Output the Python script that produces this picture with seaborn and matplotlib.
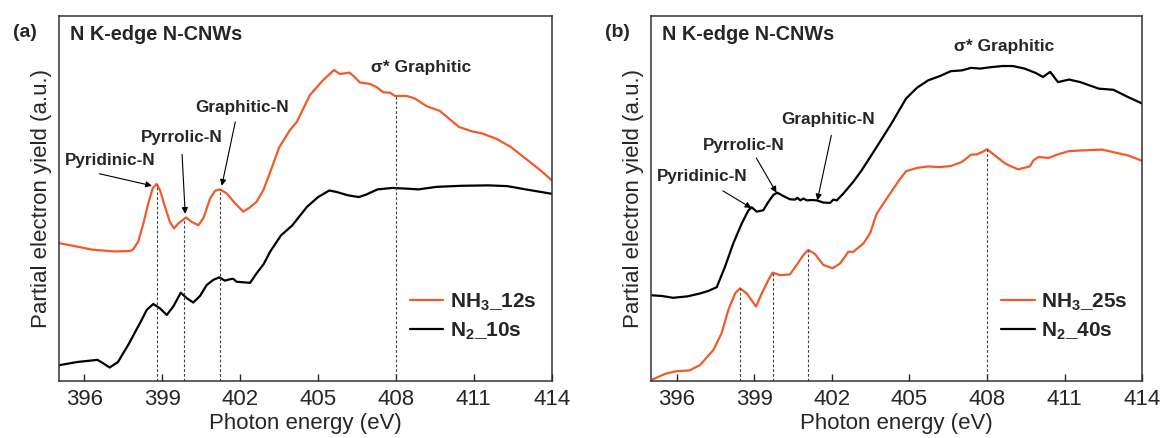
import numpy as np
import pandas as pd
import seaborn as sns
import matplotlib.pyplot as plt

# ---- panel (a) data ----
e_a_nh3 = [395.0, 395.6, 396.29, 397.14, 397.75, 397.88, 398.07, 398.27, 398.46, 398.63, 398.78, 398.91,
           399.10, 399.29, 399.45, 399.62, 399.91, 400.13, 400.39, 400.58, 400.84, 401.03, 401.22, 401.48,
           401.80, 402.12, 402.38, 402.63, 402.89, 403.21, 403.5, 403.92, 404.18, 404.69, 405.2, 405.61,
           405.84, 406.20, 406.36, 406.61, 407.0, 407.26, 407.51, 407.77, 407.96, 408.41, 408.73, 409.18,
           409.69, 410.43, 410.93, 411.29, 411.86, 412.43, 413.0, 413.57, 414.0]
y_a_nh3 = [0.378, 0.370, 0.360, 0.355, 0.356, 0.361, 0.382, 0.432, 0.487, 0.528, 0.540, 0.523,
           0.478, 0.436, 0.418, 0.432, 0.448, 0.436, 0.427, 0.446, 0.500, 0.521, 0.525, 0.514,
           0.487, 0.464, 0.476, 0.491, 0.523, 0.583, 0.640, 0.688, 0.710, 0.784, 0.825, 0.852,
           0.841, 0.845, 0.836, 0.818, 0.814, 0.805, 0.791, 0.790, 0.781, 0.781, 0.774, 0.753,
           0.740, 0.696, 0.684, 0.679, 0.664, 0.641, 0.609, 0.577, 0.550]

e_a_n2 = [395.0, 395.71, 396.5, 396.71, 396.97, 397.29, 397.71, 398.2, 398.4, 398.65, 398.91, 399.17,
          399.42, 399.71, 399.94, 400.19, 400.45, 400.71, 400.96, 401.19, 401.41, 401.61, 401.73, 401.86,
          402.38, 402.63, 402.9, 403.15, 403.57, 404.0, 404.57, 405.0, 405.43, 405.71, 406.14, 406.57,
          406.86, 407.29, 407.86, 408.43, 408.86, 409.57, 410.57, 411.57, 412.29, 413.0, 414.0]
y_a_n2 = [0.043, 0.052, 0.058, 0.049, 0.037, 0.052, 0.102, 0.167, 0.195, 0.211, 0.199, 0.181,
          0.204, 0.242, 0.227, 0.215, 0.233, 0.263, 0.277, 0.284, 0.275, 0.279, 0.280, 0.272,
          0.269, 0.295, 0.320, 0.354, 0.399, 0.426, 0.477, 0.504, 0.522, 0.518, 0.509, 0.504,
          0.511, 0.525, 0.529, 0.527, 0.525, 0.532, 0.535, 0.536, 0.534, 0.525, 0.513]

peaks_a = [398.78, 399.83, 401.22, 408.0]

# ---- panel (b) data ----
e_b_nh3 = [395.0, 395.57, 396.0, 396.5, 396.91, 397.42, 397.74, 398.0, 398.26, 398.45, 398.71, 399.07,
           399.29, 399.55, 399.71, 400.0, 400.38, 400.64, 400.90, 401.09, 401.35, 401.67, 402.03, 402.32,
           402.64, 402.83, 403.22, 403.48, 403.73, 404.16, 404.6, 404.87, 405.3, 405.73, 406.16, 406.6,
           407.02, 407.38, 407.6, 407.8, 408.0, 408.3, 408.72, 409.0, 409.2, 409.65, 409.8, 410.0,
           410.37, 410.74, 411.17, 411.74, 412.45, 412.88, 413.45, 414.0]
y_b_nh3 = [0.002, 0.020, 0.027, 0.029, 0.044, 0.085, 0.131, 0.195, 0.240, 0.254, 0.240, 0.204,
           0.240, 0.277, 0.297, 0.290, 0.292, 0.318, 0.345, 0.359, 0.348, 0.318, 0.309, 0.322,
           0.354, 0.354, 0.377, 0.405, 0.458, 0.504, 0.550, 0.575, 0.584, 0.588, 0.586, 0.589,
           0.600, 0.620, 0.621, 0.627, 0.635, 0.618, 0.595, 0.586, 0.580, 0.588, 0.605, 0.614,
           0.611, 0.621, 0.630, 0.632, 0.634, 0.627, 0.618, 0.603]

e_b_n2 = [395.0, 395.43, 395.86, 396.43, 396.91, 397.23, 397.55, 397.87, 398.19, 398.52, 398.77, 398.90,
          399.10, 399.35, 399.55, 399.74, 399.89, 400.12, 400.38, 400.58, 400.67, 400.78, 400.90, 401.03,
          401.22, 401.41, 401.67, 401.93, 402.06, 402.19, 402.45, 402.83, 403.15, 403.73, 404.3, 404.87,
          405.3, 405.73, 406.16, 406.6, 407.02, 407.38, 407.73, 408.16, 408.6, 409.0, 409.45, 409.88,
          410.16, 410.44, 410.74, 411.17, 411.6, 412.32, 412.88, 413.45, 414.0]
y_b_n2 = [0.235, 0.233, 0.228, 0.232, 0.240, 0.247, 0.257, 0.313, 0.377, 0.432, 0.467, 0.476,
          0.464, 0.468, 0.491, 0.510, 0.516, 0.507, 0.498, 0.497, 0.502, 0.495, 0.500, 0.495,
          0.496, 0.495, 0.489, 0.488, 0.497, 0.495, 0.514, 0.546, 0.577, 0.641, 0.705, 0.774,
          0.804, 0.824, 0.835, 0.849, 0.851, 0.858, 0.856, 0.860, 0.863, 0.863, 0.856, 0.844,
          0.833, 0.847, 0.819, 0.826, 0.819, 0.801, 0.798, 0.778, 0.760]

peaks_b = [398.45, 399.71, 401.09, 408.0]

ORANGE = '#f15a29'
FONT = 'Liberation Sans'

sns.set_style('white')
plt.rcParams['font.family'] = [FONT, 'DejaVu Sans']
plt.rcParams['mathtext.fontset'] = 'custom'
plt.rcParams['mathtext.rm'] = FONT
plt.rcParams['mathtext.bf'] = FONT + ':bold'


def draw_panel(ax, e_nh3, y_nh3, lab_nh3, e_n2, y_n2, lab_n2, peaks, notes, sigma_xy, tag):
    """ One XANES panel: two spectra, dashed markers, arrows and labels. """
    df_nh3 = pd.DataFrame({'E': e_nh3, 'I': y_nh3})
    df_n2 = pd.DataFrame({'E': e_n2, 'I': y_n2})
    sns.lineplot(data=df_nh3, x='E', y='I', ax=ax, color=ORANGE, lw=1.6, label=lab_nh3,
                 solid_joinstyle='round', solid_capstyle='round')
    sns.lineplot(data=df_n2, x='E', y='I', ax=ax, color='black', lw=1.6, label=lab_n2,
                 solid_joinstyle='round', solid_capstyle='round')

    # dashed guides from the axis up to the orange curve
    for p in peaks:
        top = np.interp(p, e_nh3, y_nh3)
        ax.plot([p, p], [0, top], color='#444444', lw=0.8, ls=(0, (2.5, 1.8)))

    for text, txy, start, end in notes:
        ax.text(txy[0], txy[1], text, ha='center', va='center', fontsize=12.3, fontweight='bold')
        ax.annotate('', xy=end, xytext=start,
                    arrowprops=dict(arrowstyle='-|>', color='black', lw=0.8, mutation_scale=9,
                                    shrinkA=0, shrinkB=0))

    ax.text(sigma_xy[0], sigma_xy[1], '\u03c3* Graphitic', ha='center', va='center',
            fontsize=12.5, fontweight='bold')
    ax.text(0.0226, 0.949, 'N K-edge N-CNWs', transform=ax.transAxes, ha='left', va='center',
            fontsize=14.3, fontweight='bold')
    ax.text(-0.068, 0.956, tag, transform=ax.transAxes, ha='center', va='center',
            fontsize=14, fontweight='bold')

    ax.set_xlim(395, 414)
    ax.set_ylim(0, 1)
    ax.set_xticks(np.arange(396, 415, 3))
    ax.set_yticks([])
    ax.tick_params(axis='x', direction='in', length=5, width=1, labelsize=16, pad=6, bottom=True)
    ax.set_xlabel('Photon energy (eV)', fontsize=16, labelpad=2)
    ax.set_ylabel('Partial electron yield (a.u.)', fontsize=16, labelpad=5)
    for s in ax.spines.values():
        s.set_linewidth(1.1)
        s.set_color('#333333')

    leg = ax.legend(loc='upper left', bbox_to_anchor=(0.713, 0.245), frameon=False,
                    borderpad=0, borderaxespad=0, handlelength=1.6, handletextpad=0.3,
                    labelspacing=0.33, prop={'family': FONT, 'weight': 'bold', 'size': 15})
    for line in leg.get_lines():
        line.set_linewidth(1.6)


fig = plt.figure(figsize=(11.61, 4.38), dpi=100)
ax_a = fig.add_axes([0.0504, 0.1301, 0.4248, 0.8333])
ax_b = fig.add_axes([0.5605, 0.1301, 0.4234, 0.8333])

notes_a = [
    ('Pyridinic-N', (397.0, 0.603), (396.57, 0.568), (398.6, 0.535)),
    ('Pyrrolic-N', (399.76, 0.668), (399.76, 0.621), (399.88, 0.458)),
    ('Graphitic-N', (402.07, 0.749), (401.81, 0.710), (401.29, 0.535)),
]
notes_b = [
    ('Pyridinic-N', (397.0, 0.559), (397.79, 0.521), (398.89, 0.474)),
    ('Pyrrolic-N', (398.58, 0.646), (399.08, 0.611), (399.86, 0.516)),
    ('Graphitic-N', (401.87, 0.717), (401.98, 0.673), (401.44, 0.495)),
]

draw_panel(ax_a, e_a_nh3, y_a_nh3, r'NH$_\mathbf{3}$_12s', e_a_n2, y_a_n2, r'N$_\mathbf{2}$_10s',
           peaks_a, notes_a, (408.97, 0.860), '(a)')
draw_panel(ax_b, e_b_nh3, y_b_nh3, r'NH$_\mathbf{3}$_25s', e_b_n2, y_b_n2, r'N$_\mathbf{2}$_40s',
           peaks_b, notes_b, (408.66, 0.917), '(b)')

fig.savefig('out.png', dpi=100)
